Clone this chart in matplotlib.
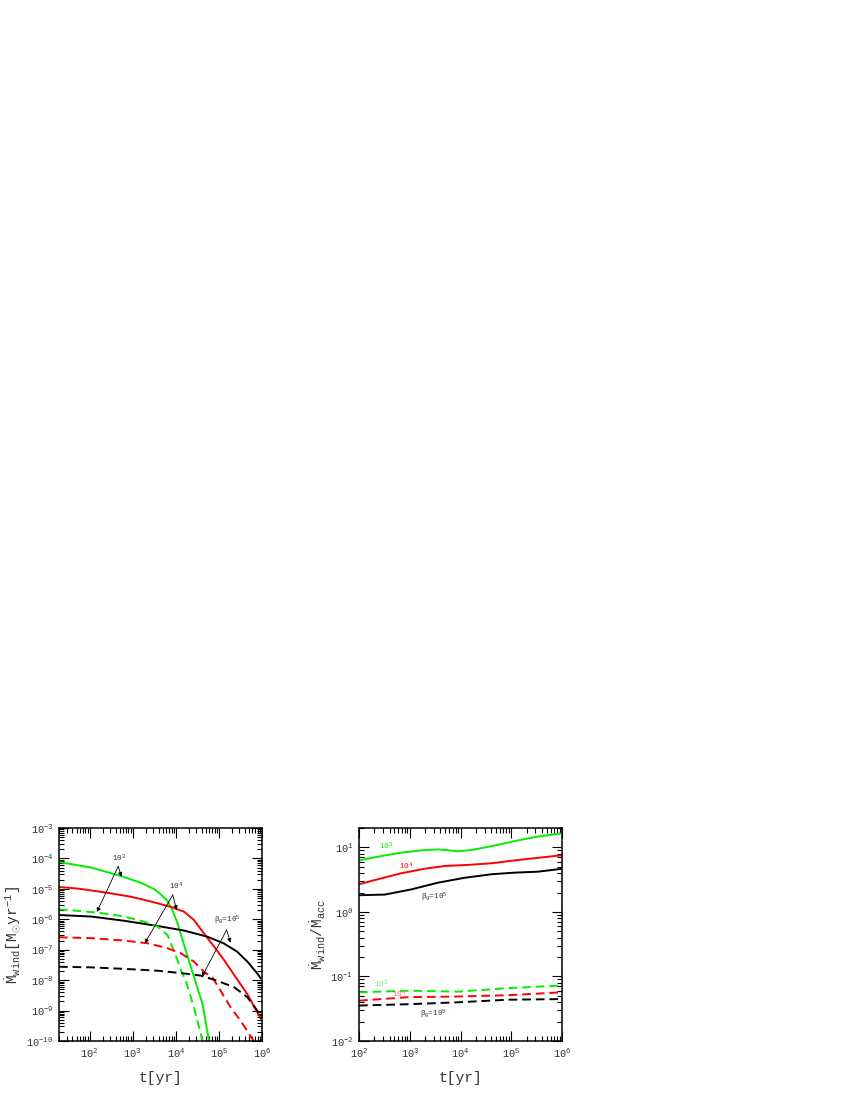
import numpy as np
import matplotlib
matplotlib.use("Agg")
import matplotlib.pyplot as plt
from matplotlib.ticker import LogLocator, NullFormatter, LogFormatterMathtext

plt.rcParams['font.family'] = ['Liberation Mono', 'DejaVu Sans Mono']
plt.rcParams['mathtext.fontset'] = 'custom'
plt.rcParams['mathtext.rm'] = 'Liberation Mono'
plt.rcParams['mathtext.it'] = 'Liberation Mono'
plt.rcParams['mathtext.bf'] = 'Liberation Mono:bold'
plt.rcParams['mathtext.fallback'] = 'cm'

# ---------------- Left panel data (log10 t [yr], log10 Mdot_wind [Msun/yr]) ----------------
lt_g_sol = [1.29, 2.04, 2.73, 3.19, 3.50, 3.69, 3.81, 3.92, 4.04, 4.23, 4.40, 4.62, 4.77, 4.82]
lm_g_sol = [-4.12, -4.30, -4.58, -4.80, -5.01, -5.23, -5.40, -5.69, -6.13, -7.01, -7.80, -8.78, -9.99, -10.25]

lt_r_sol = [1.29, 1.73, 2.42, 2.96, 3.38, 3.88, 4.19, 4.42, 4.65, 4.89, 5.12, 5.35, 5.66, 5.98]
lm_r_sol = [-4.94, -4.99, -5.13, -5.26, -5.40, -5.59, -5.75, -6.02, -6.46, -6.90, -7.34, -7.82, -8.46, -9.28]

lt_k_sol = [1.29, 2.04, 2.81, 3.58, 4.19, 4.73, 5.11, 5.42, 5.66, 5.89, 5.98]
lm_k_sol = [-5.86, -5.91, -6.05, -6.22, -6.37, -6.57, -6.79, -7.06, -7.39, -7.78, -7.96]

lt_g_das = [1.29, 2.19, 2.81, 3.27, 3.58, 3.81, 3.92, 4.04, 4.15, 4.22, 4.42, 4.62, 4.67]
lm_g_das = [-5.67, -5.78, -5.91, -6.08, -6.24, -6.52, -6.90, -7.34, -7.78, -7.96, -8.89, -9.99, -10.25]

lt_r_das = [1.29, 2.04, 2.81, 3.35, 3.81, 4.12, 4.42, 4.65, 4.85, 5.04, 5.27, 5.50, 5.73, 5.81, 5.86]
lm_r_das = [-6.59, -6.62, -6.70, -6.79, -6.95, -7.12, -7.39, -7.72, -7.91, -8.35, -8.89, -9.33, -9.83, -10.0, -10.2]

lt_k_das = [1.29, 2.04, 2.81, 3.58, 4.19, 4.58, 4.96, 5.35, 5.66, 5.89, 5.98]
lm_k_das = [-7.56, -7.58, -7.63, -7.69, -7.78, -7.85, -8.02, -8.23, -8.56, -9.00, -9.28]

# ---------------- Right panel data (log10 t [yr], log10 Mdot_wind/Mdot_acc) ----------------
rt_g_sol = [2.0, 2.37, 2.83, 3.29, 3.56, 3.75, 3.95, 4.21, 4.61, 5.07, 5.53, 6.0]
rr_g_sol = [0.80, 0.857, 0.92, 0.96, 0.97, 0.957, 0.94, 0.96, 1.02, 1.10, 1.17, 1.22]

rt_r_sol = [2.0, 2.37, 2.83, 3.29, 3.69, 4.15, 4.61, 5.07, 5.53, 6.0]
rr_r_sol = [0.43, 0.507, 0.60, 0.67, 0.713, 0.73, 0.755, 0.80, 0.84, 0.88]

rt_k_sol = [2.0, 2.51, 3.03, 3.56, 4.08, 4.61, 5.07, 5.53, 6.0]
rr_k_sol = [0.26, 0.27, 0.35, 0.455, 0.53, 0.585, 0.61, 0.625, 0.67]

rt_das = [2.0, 2.97, 3.95, 4.94, 6.0]
rr_g_das = [-1.245, -1.22, -1.235, -1.18, -1.14]
rr_r_das = [-1.375, -1.32, -1.31, -1.29, -1.245]
rr_k_das = [-1.45, -1.43, -1.40, -1.36, -1.35]

GREEN = '#00ee00'
RED = '#ff0000'
BLACK = '#000000'
TXT = '#333333'
LW = 1.4
DASH = (0, (4.5, 2.5))

fig = plt.figure(figsize=(8.5, 11), dpi=100)
axL = fig.add_axes([59/850, 59/1100, 203/850, 213/1100])
axR = fig.add_axes([359/850, 59/1100, 203/850, 213/1100])


def p(ax, lt, lv, color, ls='-'):
    ax.plot(10**np.array(lt), 10**np.array(lv), color=color, lw=LW, linestyle=ls,
            solid_capstyle='butt', dash_capstyle='butt')


def style(ax):
    ax.set_xscale('log')
    ax.set_yscale('log')
    ax.tick_params(which='both', direction='in', top=True, right=True,
                   labelsize=7.5, labelcolor=TXT, width=0.8, pad=4)
    ax.tick_params(which='major', length=7)
    ax.tick_params(which='minor', length=3.6)
    ax.xaxis.set_major_locator(LogLocator(base=10, numticks=20))
    ax.yaxis.set_major_locator(LogLocator(base=10, numticks=20))
    ax.xaxis.set_minor_locator(LogLocator(base=10, subs=np.arange(2, 10), numticks=20))
    ax.yaxis.set_minor_locator(LogLocator(base=10, subs=np.arange(2, 10), numticks=20))
    ax.xaxis.set_minor_formatter(NullFormatter())
    ax.yaxis.set_minor_formatter(NullFormatter())
    ax.xaxis.set_major_formatter(LogFormatterMathtext())
    ax.yaxis.set_major_formatter(LogFormatterMathtext())
    for s in ax.spines.values():
        s.set_linewidth(1.1)


# ---- left
p(axL, lt_g_sol, lm_g_sol, GREEN)
p(axL, lt_r_sol, lm_r_sol, RED)
p(axL, lt_k_sol, lm_k_sol, BLACK)
p(axL, lt_g_das, lm_g_das, GREEN, DASH)
p(axL, lt_r_das, lm_r_das, RED, DASH)
p(axL, lt_k_das, lm_k_das, BLACK, DASH)
style(axL)
axL.set_xlim(10**1.291, 1e6)
axL.set_ylim(1e-10, 1e-3)
axL.set_xlabel('t[yr]', fontsize=10.5, color=TXT, labelpad=8)
axL.set_ylabel(r'$\dot{\mathrm{M}}_{\mathrm{wind}}[\mathrm{M}_{\odot}\mathrm{yr}^{-1}]$',
               fontsize=10.5, color=TXT, labelpad=2)

arrow = dict(arrowstyle='-|>', color='k', lw=0.6, mutation_scale=6, shrinkA=0, shrinkB=0)
# 10^3 label and arrows
axL.text(10**2.69, 10**-4.0, r'10$^3$', fontsize=5.5, color=TXT, ha='center', va='center')
for tgt in [(2.74, -4.60), (2.17, -5.76)]:
    axL.annotate('', xy=(10**tgt[0], 10**tgt[1]), xytext=(10**2.665, 10**-4.26), arrowprops=arrow)
# 10^4
axL.text(10**4.0, 10**-4.91, r'10$^4$', fontsize=5.5, color=TXT, ha='center', va='center')
for tgt in [(4.02, -5.69), (3.28, -6.79)]:
    axL.annotate('', xy=(10**tgt[0], 10**tgt[1]), xytext=(10**3.93, 10**-5.20), arrowprops=arrow)
# beta0 = 10^5
axL.text(10**5.19, 10**-6.05, r'$\beta_0$=10$^5$', fontsize=5.5, color=TXT, ha='center', va='center')
for tgt in [(5.27, -6.77), (4.61, -7.88)]:
    axL.annotate('', xy=(10**tgt[0], 10**tgt[1]), xytext=(10**5.18, 10**-6.35), arrowprops=arrow)

# ---- right
p(axR, rt_g_sol, rr_g_sol, GREEN)
p(axR, rt_r_sol, rr_r_sol, RED)
p(axR, rt_k_sol, rr_k_sol, BLACK)
p(axR, rt_das, rr_g_das, GREEN, DASH)
p(axR, rt_das, rr_r_das, RED, DASH)
p(axR, rt_das, rr_k_das, BLACK, DASH)
style(axR)
axR.set_xlim(1e2, 1e6)
axR.set_ylim(1e-2, 10**1.302)
axR.set_xlabel('t[yr]', fontsize=10.5, color=TXT, labelpad=8)
axR.set_ylabel(r'$\dot{\mathrm{M}}_{\mathrm{wind}}/\dot{\mathrm{M}}_{\mathrm{acc}}$',
               fontsize=10.5, color=TXT, labelpad=2)

axR.text(10**2.54, 10**1.01, r'10$^3$', fontsize=5.5, color=GREEN, ha='center', va='center')
axR.text(10**2.93, 10**0.70, r'10$^4$', fontsize=5.5, color=RED, ha='center', va='center')
axR.text(10**3.49, 10**0.22, r'$\beta_0$=10$^5$', fontsize=5.5, color=TXT, ha='center', va='center')
axR.text(10**2.44, 10**-1.12, r'10$^3$', fontsize=5.5, color='#66ee66', ha='center', va='center')
axR.text(10**2.80, 10**-1.28, r'10$^4$', fontsize=5.5, color='#ff6666', ha='center', va='center')
axR.text(10**3.46, 10**-1.58, r'$\beta_0$=10$^5$', fontsize=5.5, color=TXT, ha='center', va='center')

fig.savefig('out.png', dpi=100)
